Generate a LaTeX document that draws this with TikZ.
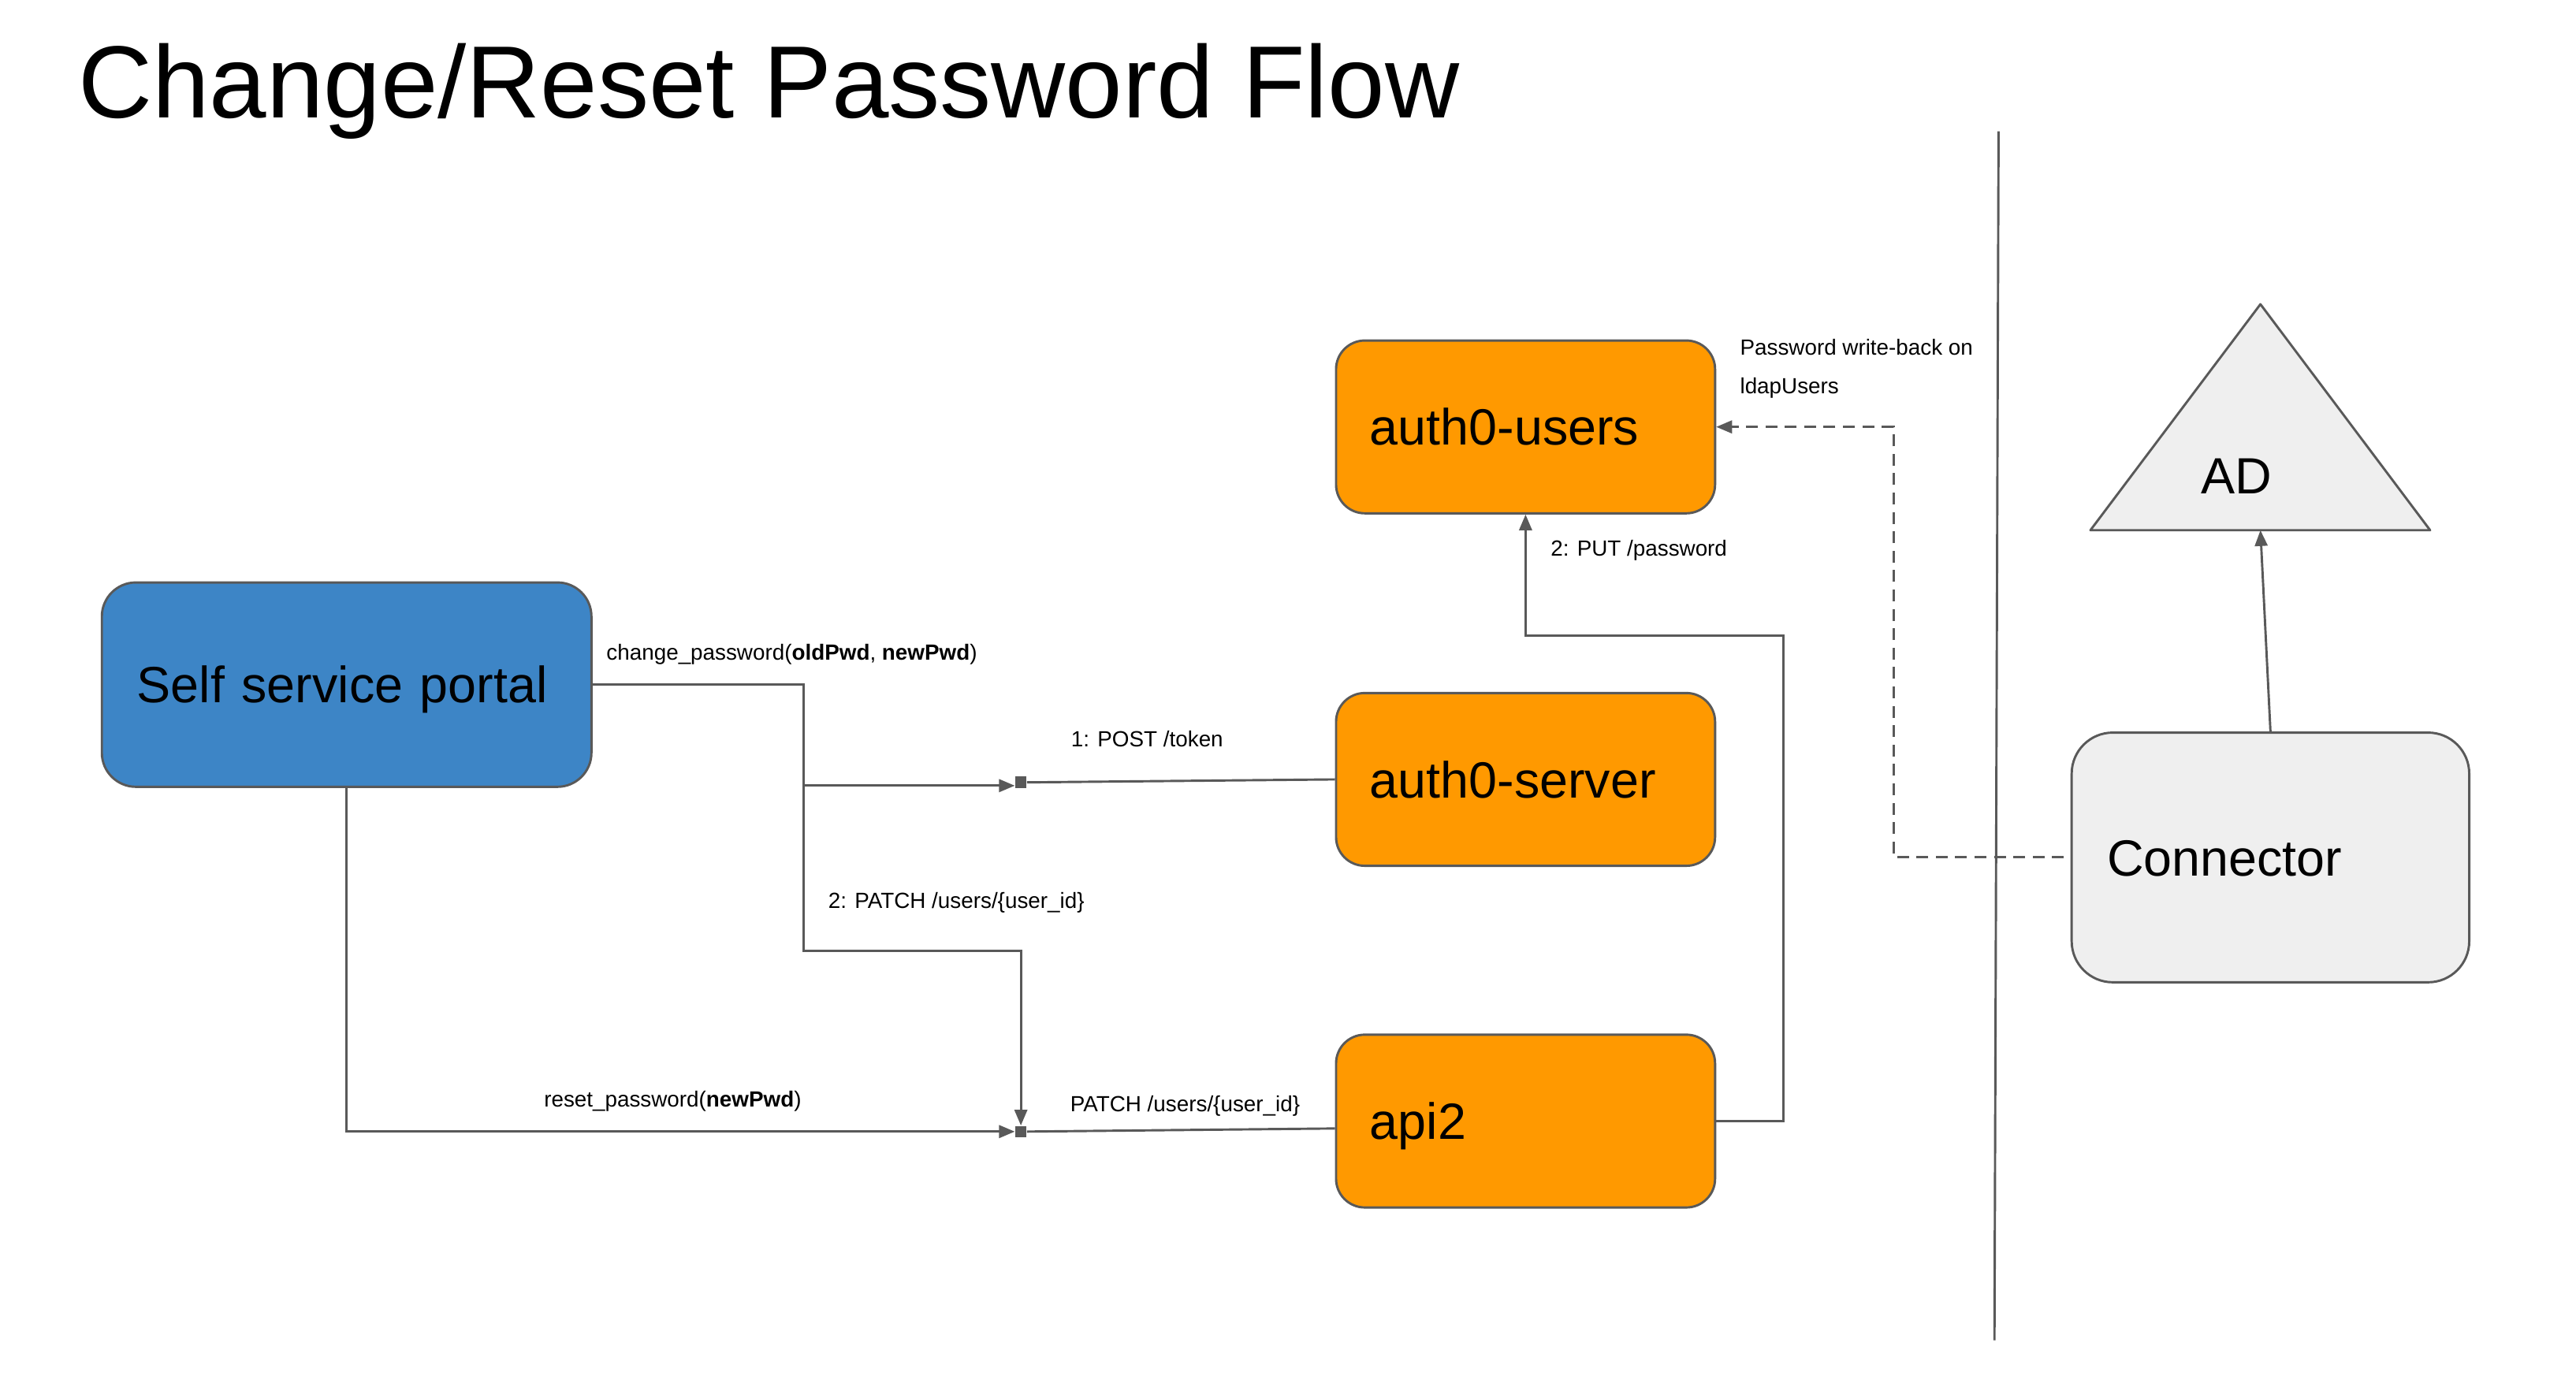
\documentclass[tikz,border=0pt]{standalone}
\usepackage{fontspec}
\setmainfont{Liberation Sans}
\usetikzlibrary{arrows.meta}
\definecolor{edge}{HTML}{595959}
\definecolor{gblue}{HTML}{3D85C6}
\definecolor{gorange}{HTML}{FF9900}
\definecolor{ggray}{HTML}{EFEFEF}
\begin{document}
\begin{tikzpicture}[x=1pt,y=-1pt,
  bigtext/.style={font=\fontsize{31}{37}\selectfont},
  smalltext/.style={font=\fontsize{13.35}{16}\selectfont},
  shapebox/.style={draw=edge, line width=1.4pt, inner ysep=0pt, bigtext,
    text height=22.2pt, text depth=0pt},
  obox/.style={shapebox, fill=gorange, rounded corners=17.5pt,
    minimum width=230.7pt, minimum height=105.2pt,
    text width=189.5pt, align=left, inner xsep=20.6pt},
  portalbox/.style={shapebox, fill=gblue, rounded corners=20.7pt,
    minimum width=298pt, minimum height=124.4pt,
    text width=255.2pt, align=left, inner xsep=21.4pt},
  connbox/.style={shapebox, fill=ggray, rounded corners=25pt,
    minimum width=242pt, minimum height=152pt,
    text width=199pt, align=left, inner xsep=21.5pt},
  junction/.style={fill=edge, minimum size=7pt, inner sep=0pt},
  link/.style={draw=edge, line width=1.4pt},
  arrowed/.style={-{Triangle[length=9.6pt,width=7.7pt]}},
  dashlink/.style={link, dash pattern=on 7.2pt off 4.6pt},
  lbl/.style={smalltext, anchor=base west, inner sep=0pt}
]
\useasboundingbox (0,0) rectangle (1568,840);

% title
\node[anchor=base west, inner sep=0pt, font=\fontsize{62.5}{75}\selectfont]
  (title) at (47.5,71.5) {Change/Reset Password Flow};

% separator
\coordinate (septop) at (1216.5,80);
\coordinate (sepbot) at (1214,816);
\draw[link] (septop) -- (sepbot);

% boxes
\node[portalbox] (portal) at (211,416.8) {Self service portal};
\node[obox] (users) at (928.6,259.9) {auth0-users};
\node[obox] (server) at (928.6,474.5) {auth0-server};
\node[obox] (api) at (928.6,682.5) {api2};
\node[connbox] (conn) at (1382,522) {Connector};

% AD triangle
\coordinate (adtop) at (1375.9,185.2);
\coordinate (adleft) at (1272.4,322.8);
\coordinate (adright) at (1479.2,322.8);
\coordinate (adbase) at (1375.9,322.8);
\draw[link, fill=ggray, line join=round] (adtop) -- (adleft) -- (adright) -- cycle;
\node[bigtext, anchor=base west, inner sep=0pt] (ad) at (1339.6,300.4) {AD};

% junctions
\node[junction] (j1) at (621.4,476.3) {};
\node[junction] (j2) at (621.4,688.9) {};

% helper coordinates
\coordinate (split) at (489,478.3);
\coordinate (bend) at (489,579);
\coordinate (riser) at (1085.5,387);
\coordinate (dashx) at (1152.6,522);

% connectors
\draw[link, arrowed] (portal.east) -| (bend) -| (j2.north);
\draw[link, arrowed] (split) -- (split -| j1.west);
\draw[link] (j1.east) -- (server.west);
\draw[link, arrowed] (portal.south) |- (j2.west);
\draw[link] (j2.east) -- ([yshift=-4.5pt]api.west);
\draw[link, arrowed] (api.east) -| (riser) -| (users.south);
\draw[dashlink, arrowed] ([xshift=-4pt]conn.west) -- (dashx) |- (users.east);
\draw[link, arrowed] (conn.north) -- (adbase);

% labels
\node[lbl] (lchange) at (369,401.8) {change\_password(\textbf{oldPwd}, \textbf{newPwd})};
\node[lbl] (lpost) at (651.8,454.6) {1: POST /token};
\node[lbl] (lpatch2) at (504,552.8) {2: PATCH /users/\{user\_id\}};
\node[lbl] (lreset) at (331,673.8) {reset\_password(\textbf{newPwd})};
\node[lbl] (lpatch) at (651.3,676.6) {PATCH /users/\{user\_id\}};
\node[lbl] (lput) at (943.7,338.3) {2: PUT /password};
\node[lbl] (lwb1) at (1059,216) {Password write-back on};
\node[lbl] (lwb2) at (1059,239.5) {ldapUsers};
\end{tikzpicture}
\end{document}
